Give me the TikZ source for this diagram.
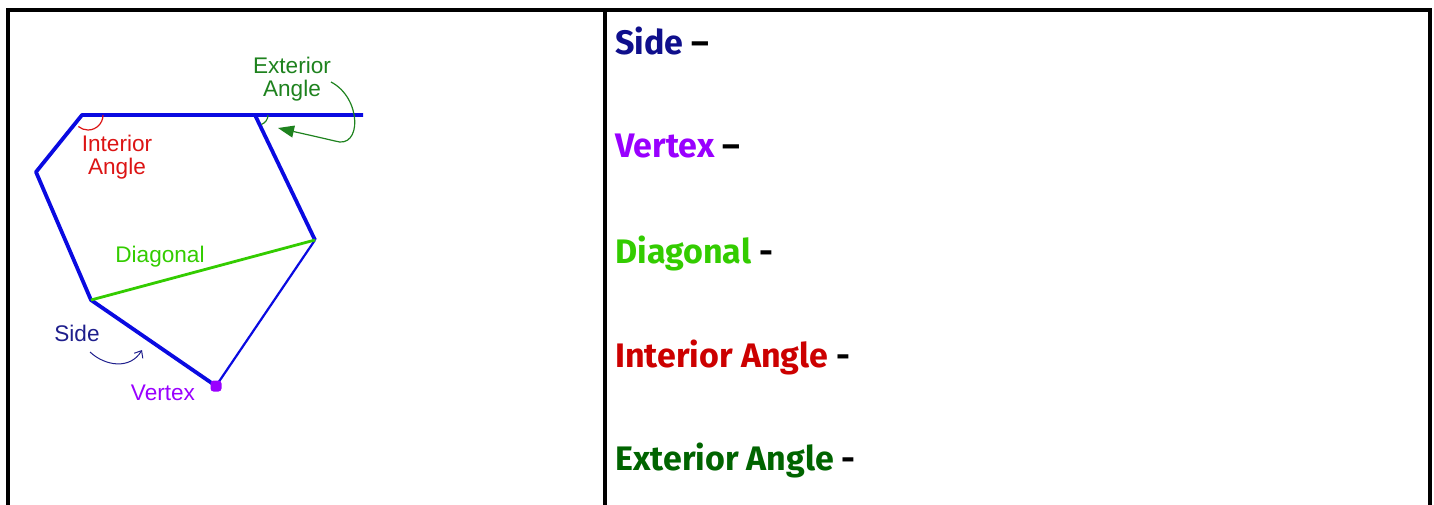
\documentclass[tikz,border=0pt]{standalone}
\usepackage{fontspec}
\newfontfamily\figfont{Liberation Sans}
\newfontfamily\termfont{Fira Sans}
\usetikzlibrary{arrows.meta, calc}
\definecolor{polyblue}{RGB}{10,10,225}
\definecolor{sidenavy}{RGB}{30,30,140}
\definecolor{termnavy}{RGB}{15,15,140}
\definecolor{vertpurple}{RGB}{153,0,255}
\definecolor{diaggreen}{RGB}{51,204,0}
\definecolor{intred}{RGB}{220,20,20}
\definecolor{termred}{RGB}{204,0,0}
\definecolor{extgreen}{RGB}{30,130,30}
\definecolor{termgreen}{RGB}{0,100,0}
\tikzset{
  % --- table frame ---
  frame/.style={line width=1.7pt, black, line cap=rect},
  % --- polygon ---
  polyside/.style={line width=1.9pt, polyblue, line join=round},
  diagline/.style={line width=1.4pt, diaggreen},
  anglearc/.style={line width=0.6pt},
  % --- labels in the figure ---
  figlabel/.style={font=\figfont\fontsize{11.3}{11.5}\selectfont, inner sep=0pt, align=center},
  % --- pointers ---
  extpointer/.style={-{Triangle[length=8pt, width=6pt]}, line width=0.6pt, extgreen},
  sidepointer/.style={-{Straight Barb[length=3pt, width=5pt]}, line width=0.5pt, sidenavy},
  % --- terms in the right column ---
  term/.style={font=\termfont\bfseries\fontsize{17}{20}\selectfont, inner sep=0pt, anchor=base west},
}

\begin{document}
\begin{tikzpicture}[x=0.5pt, y=-0.5pt]
    \useasboundingbox (0,0) rectangle (1434,504);
    % frame of the table
    \draw[frame] (8,504) -- (8,10) -- (1430,10) -- (1430,504);
    \draw[frame] (605,10) -- (605,504);
    % polygon corners
    \coordinate (A) at (82,115);
    \coordinate (B) at (255,115);
    \coordinate (C) at (36,172);
    \coordinate (D) at (315,240);
    \coordinate (E) at (91,300);
    \coordinate (F) at (216,386);
    \coordinate (T) at (363,115);
    \draw[polyside] (T) -- (A) -- (C) -- (E) -- (F);
    \draw[polyside] (B) -- (D);
    \draw[polyside, line width=1.1pt] (D) -- (F);
    \draw[diagline] (E) -- (D);
    \fill[vertpurple, rounded corners=1.5] ($(F)+(-5.5,-5.5)$) rectangle ($(F)+(5.5,5.5)$);
    % angles
    \draw[anglearc, intred] (103,115) arc[start angle=0, end angle=130, radius=15];
    \draw[anglearc, extgreen] (268,115) arc[start angle=0, end angle=70, radius=10];
    % labels (base = last line)
    \node[figlabel, extgreen, anchor=base] (ext) at (292,96) {Exterior\\Angle};
    \node[figlabel, intred, anchor=base] (int) at (117,174) {Interior\\Angle};
    \node[figlabel, diaggreen, anchor=base] (diag) at (160,262) {Diagonal};
    \node[figlabel, sidenavy, anchor=base] (sidelbl) at (77,341) {Side};
    \node[figlabel, vertpurple, anchor=base] (vert) at (163,400) {Vertex};
    % pointers
    \coordinate (exttip) at (278,128);
    \coordinate (sidestart) at (90,352);
    \coordinate (sidetip) at (142,350);
    \draw[extpointer] (331,82) .. controls (362,98) and (362,150) .. (335,141)
      .. controls (318,137) and (300,133) .. (exttip);
    \draw[sidepointer] (sidestart) .. controls (105,366) and (130,370) .. (sidetip);
    % right column
    \node[term, termnavy] (t1) at (615,54) {Side \textcolor{black}{–}};
    \node[term, vertpurple] (t2) at (615,157) {Vertex \textcolor{black}{–}};
    \node[term, diaggreen] (t3) at (615,263) {Diagonal \textcolor{black}{-}};
    \node[term, termred] (t4) at (615,367) {Interior Angle \textcolor{black}{-}};
    \node[term, termgreen] (t5) at (615,470) {Exterior Angle \textcolor{black}{-}};
  \end{tikzpicture}
\end{document}
